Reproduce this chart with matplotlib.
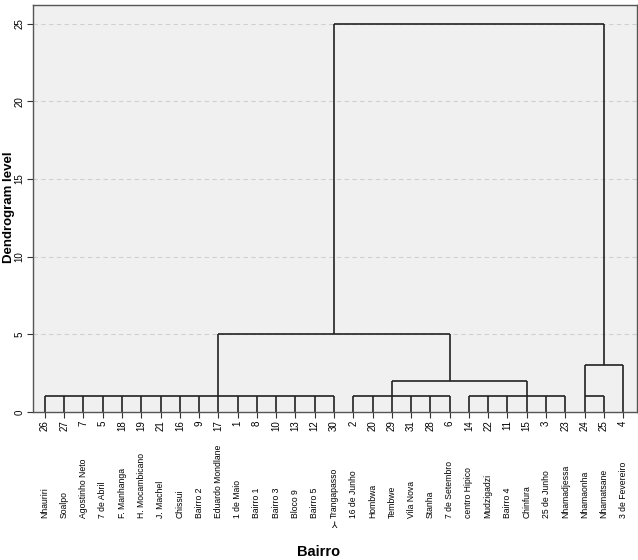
import matplotlib
matplotlib.use("Agg")
import matplotlib.pyplot as plt
from matplotlib.transforms import blended_transform_factory

plt.rcParams['font.family'] = ['Liberation Sans', 'DejaVu Sans']

# Leaf order (left to right) with case numbers and neighbourhood names
leaf_ids = [26, 27, 7, 5, 18, 19, 21, 16, 9, 17, 1, 8, 10, 13, 12, 30,
            2, 20, 29, 31, 28, 6, 14, 22, 11, 15, 3, 23, 24, 25, 4]
leaf_names = ["Nhauriri", "Soalpo", "Agostinho Neto", "7 de Abril", "F. Manhanga",
              "H. Mocambicano", "J. Machel", "Chissui", "Bairro 2", "Eduardo Mondlane",
              "1 de Maio", "Bairro 1", "Bairro 3", "Bloco 9", "Bairro 5", "Trangapasso",
              "16 de Junho", "Hombwa", "Tembwe", "Vila Nova", "Stanha", "7 de Setembro",
              "centro Hipico", "Mudzigadzi", "Bairro 4", "Chinfura", "25 de Junho",
              "Nhamadjessa", "Nhamaonha", "Nhamatsane", "3 de Fevereiro"]

# Merges: children (leaf index 'L#' or merge index 'M#'), height, stem leaf position
merge_children = [
    [f"L{i}" for i in range(0, 16)],
    [f"L{i}" for i in range(16, 22)],
    [f"L{i}" for i in range(22, 28)],
    ["L28", "L29"],
    ["M1", "M2"],
    ["M3", "L30"],
    ["M0", "M4"],
    ["M6", "M5"],
]
merge_heights = [1, 1, 1, 1, 2, 3, 5, 25]
merge_stems = [9, 18, 25, 28, 21, 29, 15, 29]

yticks = [0, 5, 10, 15, 20, 25]

W, H = 638, 560
fig = plt.figure(figsize=(W / 100, H / 100), dpi=100)
ax = fig.add_axes([33 / W, 1 - 412 / H, (637 - 33) / W, (412 - 5) / H])
ax.set_facecolor("#f0f0f0")

line_kw = dict(color="#222222", lw=1.2, solid_capstyle="butt")

nodes = {}
for i in range(len(leaf_ids)):
    nodes[f"L{i}"] = (i, 0)
for m, (children, h, stem) in enumerate(zip(merge_children, merge_heights, merge_stems)):
    xs = []
    for c in children:
        cx, cy = nodes[c]
        ax.plot([cx, cx], [cy, h], **line_kw)
        xs.append(cx)
    ax.plot([min(xs), max(xs)], [h, h], **line_kw)
    nodes[f"M{m}"] = (stem, h)

ax.set_xlim(-0.62, 30.72)
ax.set_ylim(0, 26.2)
ax.set_yticks(yticks)
ax.set_yticklabels([str(v) for v in yticks], rotation=90, va="center", fontsize=7)
for v in yticks[1:]:
    ax.axhline(v, color="#d0d0d0", lw=0.8, ls=(0, (4, 3)), zorder=0)

ax.set_xticks(range(len(leaf_ids)))
ax.set_xticklabels([str(v) for v in leaf_ids], rotation=90, fontsize=7)
ax.tick_params(axis="both", length=4, width=0.8, color="#333333", pad=2)

for s in ax.spines.values():
    s.set_color("#555555")
    s.set_linewidth(1.0)

tr = blended_transform_factory(ax.transData, fig.transFigure)
for i, name in enumerate(leaf_names):
    ax.text(i, 1 - 518 / H, name, rotation=90, ha="center", va="bottom",
            fontsize=6.2, transform=tr, clip_on=False)
ax.text(15, 1 - 526 / H, "\u2144", ha="center", va="center", fontsize=6.5,
        transform=tr, family=["DejaVu Sans"])

fig.text(9 / W, 1 - 207 / H, "Dendrogram level", rotation=90, ha="center",
         va="center", fontsize=9.5, fontweight="bold")
fig.text(319 / W, 1 - 552 / H, "Bairro", ha="center", va="center",
         fontsize=10.5, fontweight="bold")

fig.savefig("out.png", dpi=100)
